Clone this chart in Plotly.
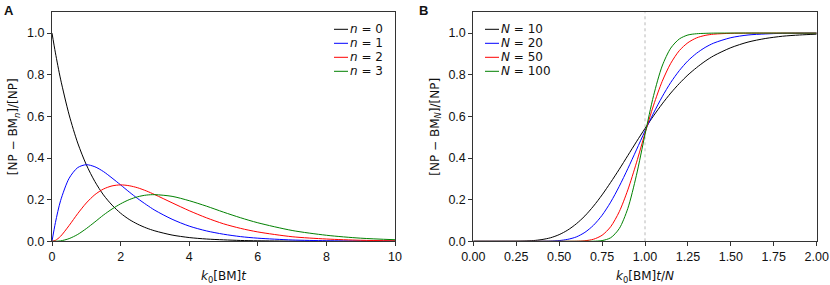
import plotly.graph_objects as go

# ---------------- Panel A data ----------------
xa = [0, 0.1, 0.25, 0.5, 0.75, 1, 1.25, 1.5, 1.75, 2, 2.25, 2.5, 2.75, 3, 3.5, 4, 4.5,
      5, 5.5, 6, 7, 8, 9, 10]
a_n0 = [1.0, 0.905, 0.779, 0.607, 0.472, 0.368, 0.287, 0.223, 0.174, 0.135, 0.105, 0.082,
        0.064, 0.050, 0.030, 0.018, 0.011, 0.007, 0.004, 0.0025, 0.0009, 0.0003, 0.0001, 0.0]
a_n1 = [0.0, 0.090, 0.195, 0.303, 0.354, 0.368, 0.358, 0.335, 0.304, 0.271, 0.237, 0.205,
        0.176, 0.149, 0.106, 0.073, 0.050, 0.034, 0.0225, 0.015, 0.0064, 0.0027, 0.0011, 0.0005]
a_n2 = [0.0, 0.0045, 0.024, 0.076, 0.133, 0.184, 0.224, 0.251, 0.266, 0.271, 0.267, 0.257,
        0.242, 0.224, 0.185, 0.147, 0.113, 0.084, 0.062, 0.045, 0.022, 0.011, 0.005, 0.0023]
a_n3 = [0.0, 0.0002, 0.002, 0.013, 0.033, 0.061, 0.093, 0.126, 0.155, 0.180, 0.200, 0.214,
        0.222, 0.224, 0.216, 0.195, 0.169, 0.140, 0.113, 0.089, 0.052, 0.029, 0.015, 0.0076]
a_labels = ["<i>n</i> = 0", "<i>n</i> = 1", "<i>n</i> = 2", "<i>n</i> = 3"]

# ---------------- Panel B data ----------------
xb10 = [0, 0.25, 0.3, 0.35, 0.4, 0.45, 0.5, 0.55, 0.6, 0.65, 0.7, 0.75, 0.8, 0.85, 0.9, 0.95,
        1.0, 1.05, 1.1, 1.15, 1.2, 1.25, 1.3, 1.35, 1.4, 1.5, 1.6, 1.7, 1.8, 1.9, 2.0]
b_n10 = [0.0, 0.0003, 0.0012, 0.0035, 0.0084, 0.017, 0.032, 0.054, 0.084, 0.122, 0.169, 0.223,
         0.283, 0.346, 0.412, 0.478, 0.542, 0.603, 0.660, 0.712, 0.758, 0.799, 0.834, 0.865,
         0.891, 0.930, 0.957, 0.974, 0.985, 0.991, 0.995]
xb20 = [0, 0.35, 0.4, 0.45, 0.5, 0.55, 0.6, 0.65, 0.7, 0.75, 0.8, 0.85, 0.9, 0.95, 1.0, 1.05,
        1.1, 1.15, 1.2, 1.25, 1.3, 1.35, 1.4, 1.5, 1.6, 1.7, 1.8, 2.0]
b_n20 = [0.0, 0.0, 0.0003, 0.0011, 0.0035, 0.0094, 0.021, 0.043, 0.077, 0.125, 0.188, 0.264,
         0.349, 0.439, 0.530, 0.616, 0.694, 0.763, 0.820, 0.867, 0.903, 0.931, 0.952, 0.978,
         0.991, 0.996, 0.999, 1.0]
xb50 = [0, 0.5, 0.55, 0.6, 0.65, 0.7, 0.75, 0.8, 0.85, 0.9, 0.95, 1.0, 1.05, 1.1, 1.15, 1.2,
        1.25, 1.3, 1.35, 1.4, 1.5, 1.6, 2.0]
b_n50 = [0.0, 0.0, 0.0001, 0.0005, 0.0026, 0.0099, 0.029, 0.070, 0.142, 0.247, 0.377, 0.519,
         0.654, 0.768, 0.855, 0.916, 0.954, 0.977, 0.989, 0.995, 0.999, 1.0, 1.0]
xb100 = [0, 0.6, 0.65, 0.7, 0.75, 0.8, 0.85, 0.9, 0.95, 1.0, 1.05, 1.1, 1.15, 1.2, 1.25, 1.3,
         1.35, 1.4, 2.0]
b_n100 = [0.0, 0.0, 0.00003, 0.0004, 0.0034, 0.017, 0.061, 0.158, 0.317, 0.513, 0.700, 0.842,
          0.928, 0.972, 0.991, 0.997, 0.999, 1.0, 1.0]
b_labels = ["<i>N</i> = 10", "<i>N</i> = 20", "<i>N</i> = 50", "<i>N</i> = 100"]

colors = ["#000000", "#0000ff", "#ff0000", "#008000"]
ref_x = 1.0

MATH = "DejaVu Sans"
TEXT = "Liberation Sans, Arial, Helvetica, sans-serif"
W, H = 830, 285
fig = go.Figure()

for ys, c in zip([a_n0, a_n1, a_n2, a_n3], colors):
    fig.add_trace(go.Scatter(x=xa, y=ys, mode="lines", xaxis="x", yaxis="y", showlegend=False,
                             hoverinfo="skip",
                             line=dict(color=c, width=1, shape="spline", smoothing=0.8)))

for xs, ys, c in zip([xb10, xb20, xb50, xb100], [b_n10, b_n20, b_n50, b_n100], colors):
    fig.add_trace(go.Scatter(x=xs, y=ys, mode="lines", xaxis="x2", yaxis="y2", showlegend=False,
                             hoverinfo="skip",
                             line=dict(color=c, width=1, shape="spline", smoothing=0.8)))

fig.add_shape(type="line", xref="x2", yref="y2 domain", x0=ref_x, x1=ref_x, y0=0, y1=1,
              line=dict(color="#b8b8b8", width=1, dash="dot"), layer="below")

ydom = [1 - 241.3 / H, 1 - 12.3 / H]
axcommon = dict(showline=True, mirror=True, linecolor="#333333", linewidth=1,
                ticks="outside", ticklen=4, tickwidth=1, tickcolor="#333333",
                showgrid=False, zeroline=False, automargin=False,
                tickfont=dict(family=TEXT, size=12.5, color="#111111"))
tfont = dict(family=MATH, size=12, color="#111111")

fig.update_layout(
    width=W, height=H,
    margin=dict(l=0, r=0, t=0, b=0, autoexpand=False),
    paper_bgcolor="white", plot_bgcolor="white",
    font=dict(family=TEXT, size=12, color="#111111"),
    showlegend=False,
    xaxis=dict(domain=[52 / W, 395 / W], range=[0, 10], dtick=2, anchor="y",
               title=dict(text="<i>k</i><sub>0</sub>[BM]<i>t</i>", standoff=8, font=tfont),
               **axcommon),
    yaxis=dict(domain=ydom, range=[0, 1.1], tickvals=[0, 0.2, 0.4, 0.6, 0.8, 1.0],
               tickformat=".1f", anchor="x",
               title=dict(text="[NP − BM<sub><i>n</i></sub>]/[NP]", standoff=6, font=tfont),
               **axcommon),
    xaxis2=dict(domain=[473.3 / W, 816.7 / W], range=[0, 2], dtick=0.25, tickformat=".2f",
                anchor="y2",
                title=dict(text="<i>k</i><sub>0</sub>[BM]<i>t</i>/<i>N</i>", standoff=8,
                           font=tfont), **axcommon),
    yaxis2=dict(domain=ydom, range=[0, 1.1], tickvals=[0, 0.2, 0.4, 0.6, 0.8, 1.0],
                tickformat=".1f", anchor="x2",
                title=dict(text="[NP − BM<sub><i>N</i></sub>]/[NP]", standoff=6, font=tfont),
                **axcommon),
)

# custom legends (swatch + label), laid out in pixels
LEG_ROW = 14
SW = 14
legends = [
    (334, 29.3, a_labels),   # panel A: swatch left x, first row centre y
    (485, 29.3, b_labels),   # panel B
]
for lx, ly, labels in legends:
    for i, (lab, c) in enumerate(zip(labels, colors)):
        yc = ly + i * LEG_ROW
        fig.add_shape(type="line", xref="paper", yref="paper",
                      x0=lx / W, x1=(lx + SW) / W, y0=1 - yc / H, y1=1 - yc / H,
                      line=dict(color=c, width=1))
        fig.add_annotation(text=lab, xref="paper", yref="paper",
                           x=(lx + SW + 1) / W, y=1 - yc / H, xanchor="left",
                           yanchor="middle", showarrow=False, font=tfont, borderpad=0)

for lab, px in (("A", 3), ("B", 418)):
    fig.add_annotation(text="<b>%s</b>" % lab, xref="paper", yref="paper", x=px / W,
                       y=1 - 2 / H, xanchor="left", yanchor="top", showarrow=False,
                       borderpad=0, font=dict(family=TEXT, size=13))

fig.write_html("out.html", config={"displayModeBar": False, "staticPlot": True},
               post_script="document.body.style.margin='0px';document.body.style.padding='0px';")
